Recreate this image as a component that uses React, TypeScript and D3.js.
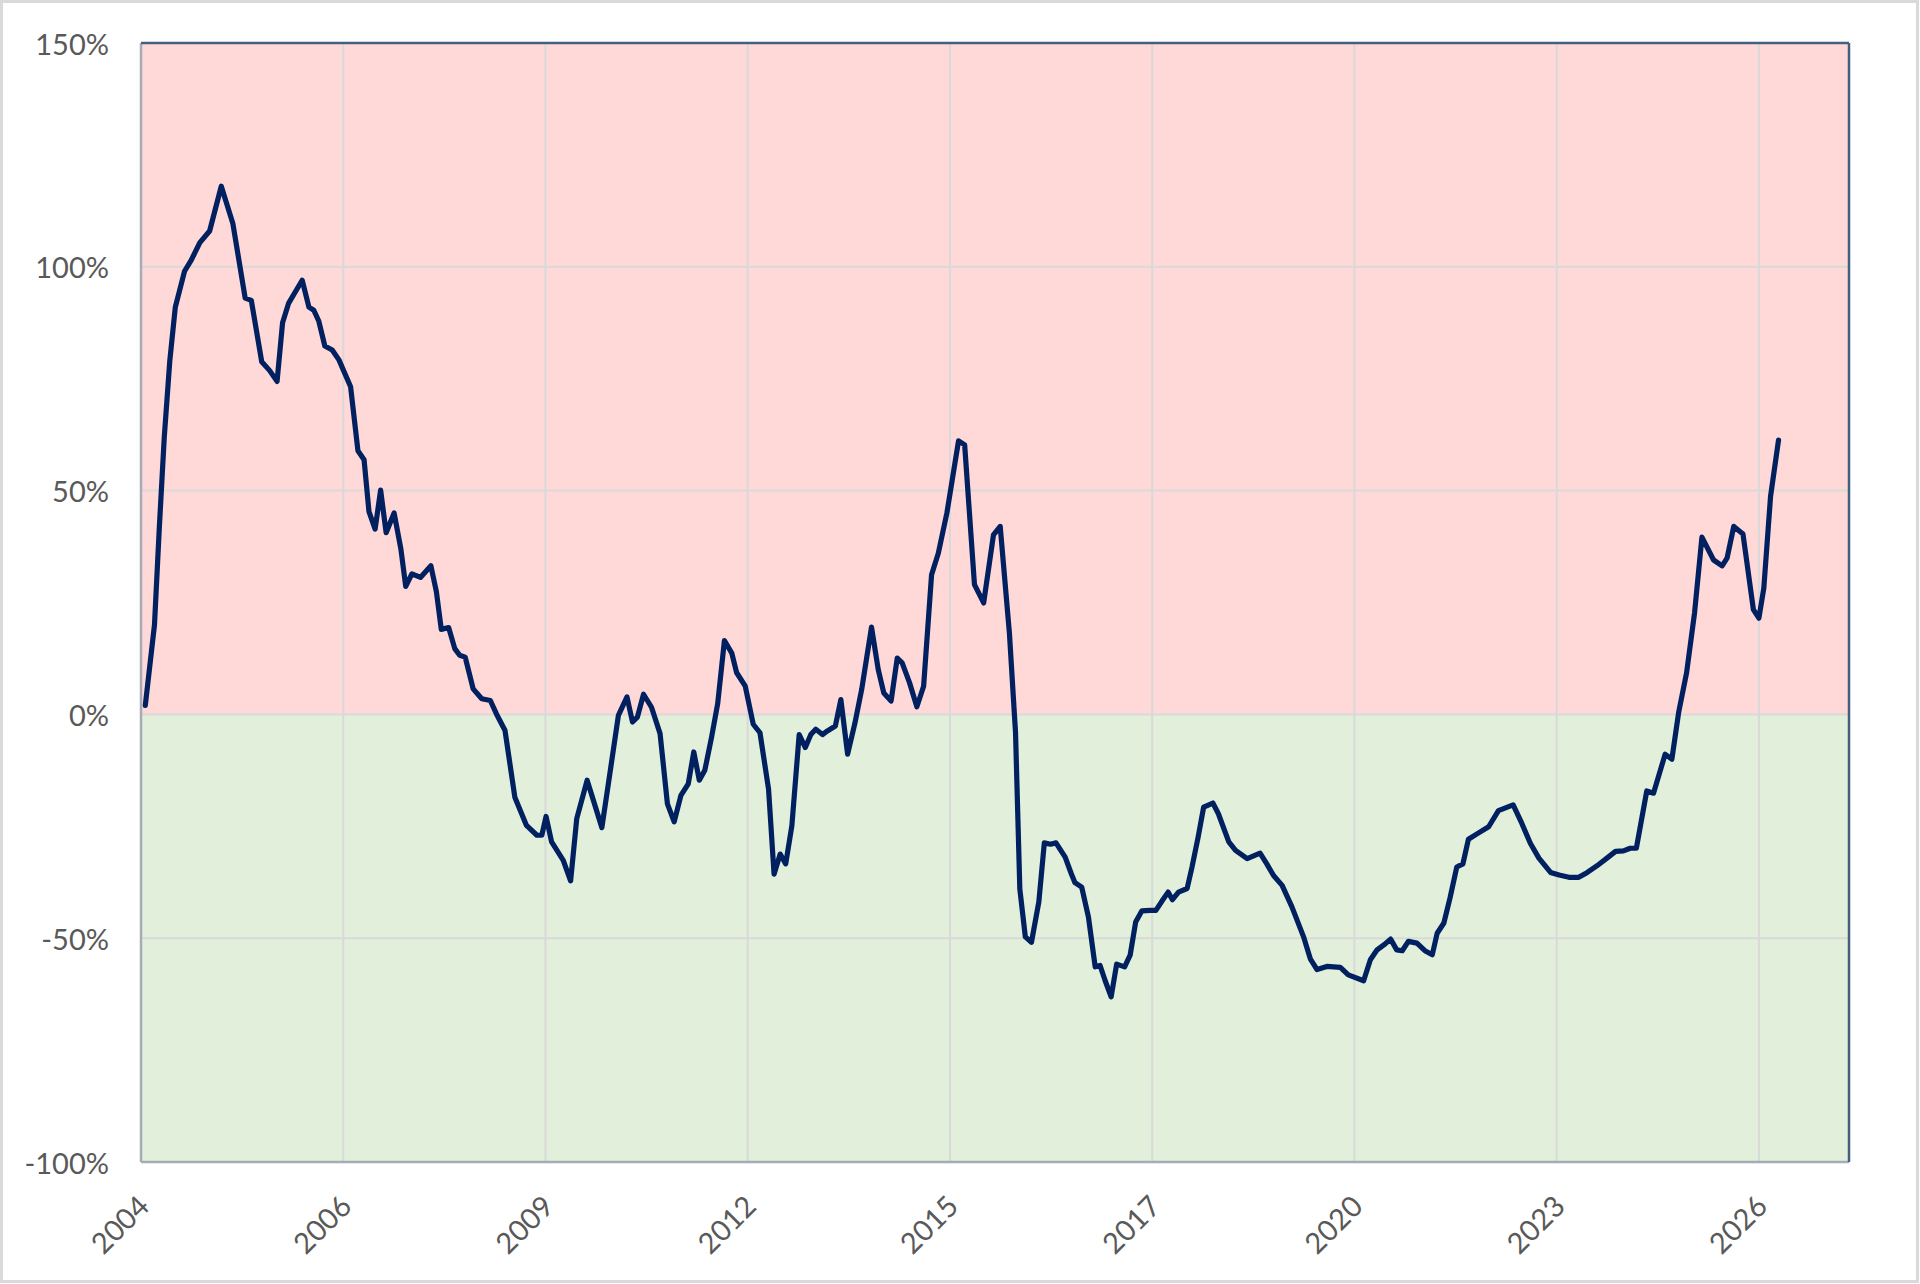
import * as d3 from 'd3';

// months since Jan 2004 and the plotted deviation in %
const months = [
  0.7, 2.2, 3, 3.8, 4.7, 5.6, 7.1, 8.2, 9.6, 11.2, 13.1, 15, 17, 18, 19.7, 21, 22.2, 23.1, 24.1, 26.3,
  27.4, 28.2, 29, 30, 31.2, 32.3, 34.2, 35.4, 36.4, 37.2, 38.2, 39.1, 40, 41.3, 42.4, 43.2, 44.2, 45.6, 47.3, 48.2,
  49, 50.2, 51.2, 52, 52.9, 54.2, 55.6, 57, 58, 59.4, 61, 62.9, 64.6, 65.4, 66.1, 67, 68.9, 70.1, 71.1, 72.8,
  75.2, 76.5, 77.9, 79.3, 80.2, 81, 82, 83.3, 84.7, 85.9, 87, 88.1, 89.3, 90.2, 91.1, 92, 93.1, 94.1, 95.2, 96.4,
  97.2, 98.6, 99.9, 101, 102.4, 103.3, 104.3, 105.2, 106.2, 107.4, 108.4, 109.3, 110.1, 111.2, 112, 113.3, 114.2, 115.3, 116.5, 117.6,
  119.2, 120.3, 121.2, 122.4, 123.4, 124.2, 125.4, 126.6, 127.7, 129, 130.1, 131.5, 133.4, 134.4, 136, 137.5, 139.1, 140.2, 141.7, 142.7,
  143.4, 144.3, 145.3, 146.5, 147.4, 148.4, 149.3, 150.8, 151.8, 152.4, 153.5, 154.6, 155.7, 156.5, 157.3, 158.3, 159.2, 160.5, 161.4, 162.3,
  163.3, 164.7, 165.6, 166.6, 167.6, 168.3, 169.3, 170.7, 171.5, 172.5, 173.4, 174.9, 175.8, 177.5, 178.6, 180.5, 182.6, 183.7, 184.8, 186.2,
  187.8, 189.7, 190.8, 191.9, 193.5, 195.7, 197, 199.5, 200.6, 201.7, 202.8, 203.9, 204.9, 205.8, 206.8, 208.2, 209.5, 210.7, 211.5, 212.6,
  213.6, 214.7, 215.7, 216.6, 218, 219.9, 221.5, 223.9, 225.3, 226.7, 228.1, 230, 231.4, 233, 234.6, 236, 237.6, 239.2, 240.6, 241.9,
  243, 244, 245.7, 246.8, 248.7, 249.8, 250.9, 252.2, 253.5, 254.7, 256.6, 258, 258.8, 259.9, 261.4, 263.1, 264, 264.8, 265.9, 267.2,
];

const values = [
  2, 20, 42, 62, 79, 91, 99, 101.5, 105.4, 108, 118, 109.6, 93, 92.5, 78.8, 76.8, 74.4, 87.5, 91.9, 97,
  91, 90.3, 87.9, 82.3, 81.4, 79.2, 73.2, 58.9, 56.9, 45.3, 41.4, 50.1, 40.6, 45, 37, 28.6, 31.4, 30.6, 33.2, 27.4,
  19, 19.4, 14.7, 13.2, 12.8, 5.7, 3.5, 3.1, 0.1, -3.6, -18.5, -24.8, -27, -27, -22.8, -28.5, -32.6, -37.2, -23.3, -14.7,
  -25.3, -13.3, -0.2, 3.9, -1.7, -0.6, 4.5, 1.6, -4.3, -20, -24, -18.1, -15.5, -8.4, -14.7, -12.5, -5.1, 2.4, 16.5, 13.7,
  9.3, 6.3, -2.2, -4.1, -16.7, -35.7, -31.2, -33.4, -24.9, -4.5, -7.4, -4.5, -3.3, -4.5, -3.7, -2.6, 3.3, -8.9, -1.9, 5.6,
  19.5, 10, 4.8, 3, 12.6, 11.5, 7.1, 1.7, 6.3, 31.2, 36, 45, 61.1, 60.2, 29, 24.9, 40.1, 42, 18.2, -4.1,
  -39, -49.7, -50.9, -41.9, -28.7, -29, -28.7, -31.9, -35.6, -37.6, -38.6, -45.3, -56.4, -56.1, -59.4, -63.1, -55.8, -56.4, -53.8, -46.4,
  -43.9, -43.8, -43.8, -41.7, -39.7, -41.4, -39.7, -38.9, -34.1, -27.4, -20.7, -19.8, -22.2, -28.5, -30.4, -32.2, -31, -33.4, -36, -38.2,
  -43, -49.7, -54.6, -57, -56.3, -56.5, -58.2, -59.5, -54.8, -52.6, -51.5, -50.2, -52.6, -52.8, -50.7, -51.1, -52.8, -53.7, -48.9, -46.6,
  -41, -34.1, -33.4, -27.9, -26.7, -25.1, -21.5, -20.2, -24.3, -28.8, -32.1, -35.3, -35.9, -36.4, -36.4, -35.3, -33.8, -32.1, -30.6, -30.5,
  -29.9, -29.9, -17.1, -17.6, -8.9, -10, 0.4, 9.3, 22.7, 39.6, 34.5, 33.2, 34.9, 42, 40.3, 23.4, 21.5, 28.2, 48.7, 61.3,
];

// x axis: a tick every 33 months from Jan 2004
const xTickMonths = [0, 33, 66, 99, 132, 165, 198, 231, 264];
const xTickLabels = ['2004', '2006', '2009', '2012', '2015', '2017', '2020', '2023', '2026'];
const yTicks = [-100, -50, 0, 50, 100, 150];

const WIDTH = 1920;
const HEIGHT = 1284;
const PLOT = { left: 141, top: 43, right: 1849, bottom: 1162 };
const FONT = 'Lato, "Open Sans", sans-serif';

export default function App() {
  const x = d3.scaleLinear().domain([0, 278.7]).range([PLOT.left, PLOT.right]);
  const y = d3.scaleLinear().domain([-100, 150]).range([PLOT.bottom, PLOT.top]);

  const points: [number, number][] = months.map((m, i) => [m, values[i]]);
  const line = d3.line<[number, number]>()
    .x((d) => x(d[0]))
    .y((d) => y(d[1]));

  return (
    <svg
      width={WIDTH}
      height={HEIGHT}
      style={{ position: 'absolute', left: 0, top: 0, background: '#fff' }}
    >
      <rect x={1.5} y={1.5} width={WIDTH - 4} height={HEIGHT - 4} fill="#fff" stroke="#d9d9d9" strokeWidth={3} />

      {/* zones */}
      <rect x={PLOT.left} y={y(150)} width={PLOT.right - PLOT.left} height={y(0) - y(150)} fill="#ffd8d8" />
      <rect x={PLOT.left} y={y(0)} width={PLOT.right - PLOT.left} height={y(-100) - y(0)} fill="#e2efda" />

      {/* gridlines */}
      {yTicks.map((t) => (
        <line key={`gy${t}`} x1={PLOT.left} x2={PLOT.right} y1={y(t)} y2={y(t)} stroke="#d9d9d9" strokeWidth={2} />
      ))}
      {xTickMonths.map((m) => (
        <line key={`gx${m}`} x1={x(m)} x2={x(m)} y1={PLOT.top} y2={PLOT.bottom} stroke="#d9d9d9" strokeWidth={2} />
      ))}

      {/* plot borders */}
      <line x1={PLOT.left} x2={PLOT.left} y1={PLOT.top} y2={PLOT.bottom} stroke="#a3acb7" strokeWidth={2.5} />
      <line x1={PLOT.left} x2={PLOT.right} y1={PLOT.bottom} y2={PLOT.bottom} stroke="#a3acb7" strokeWidth={2.5} />
      <line x1={PLOT.left} x2={PLOT.right} y1={PLOT.top} y2={PLOT.top} stroke="#44607f" strokeWidth={2.5} />
      <line x1={PLOT.right} x2={PLOT.right} y1={PLOT.top} y2={PLOT.bottom} stroke="#44607f" strokeWidth={2.5} />

      <path
        d={line(points) ?? ''}
        fill="none"
        stroke="#002060"
        strokeWidth={5.2}
        strokeLinejoin="round"
        strokeLinecap="round"
      />

      {/* y labels */}
      {yTicks.map((t) => (
        <text
          key={`ly${t}`}
          x={109}
          y={y(t)}
          textAnchor="end"
          dominantBaseline="central"
          fontFamily={FONT}
          fontSize={29}
          fill="#595959"
        >
          {`${t}%`}
        </text>
      ))}

      {/* x labels */}
      {xTickMonths.map((m, i) => (
        <text
          key={`lx${m}`}
          transform={`translate(${x(m) + 2}, ${PLOT.bottom + 38}) rotate(-45)`}
          textAnchor="end"
          dominantBaseline="central"
          fontFamily={FONT}
          fontSize={29}
          fill="#595959"
        >
          {xTickLabels[i]}
        </text>
      ))}
    </svg>
  );
}
